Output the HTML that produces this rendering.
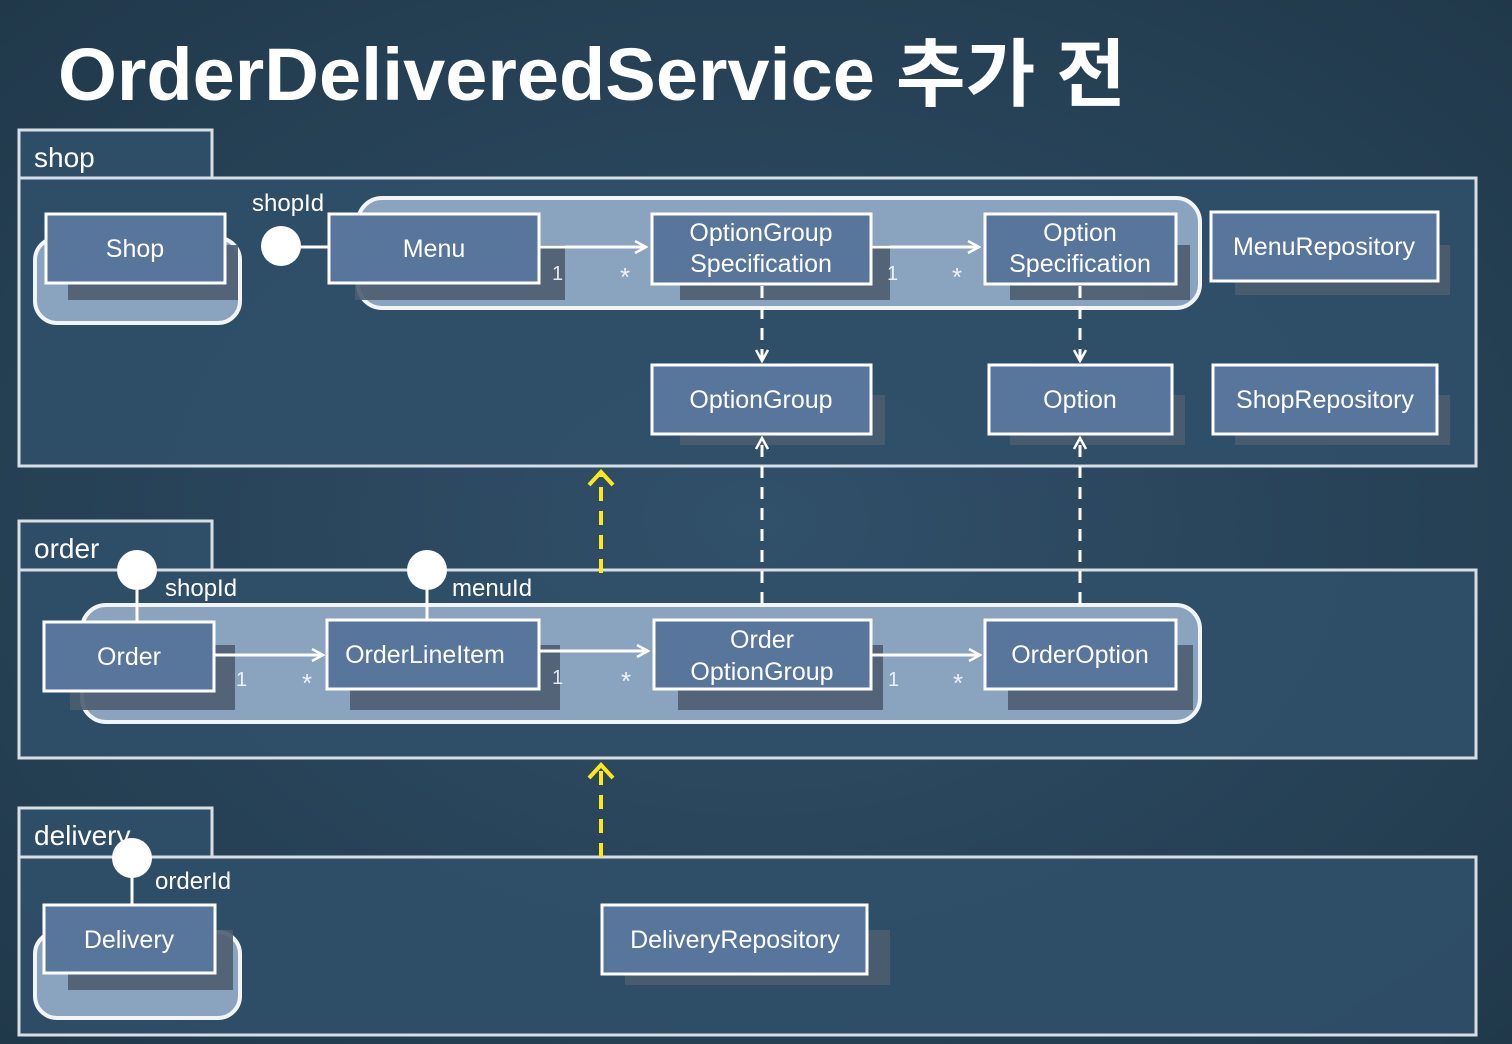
<!DOCTYPE html>
<html><head><meta charset="utf-8"><style>
html,body{margin:0;padding:0;width:1512px;height:1044px;overflow:hidden;background:#2b475b;}
svg{display:block}
text{font-family:"Liberation Sans","Noto Sans CJK KR",sans-serif;fill:#fff}
</style></head><body>
<svg width="1512" height="1044" viewBox="0 0 1512 1044" xmlns="http://www.w3.org/2000/svg">
<defs>
<radialGradient id="bg" cx="50%" cy="50%" r="75%">
<stop offset="0" stop-color="#31506a"/><stop offset="1" stop-color="#1f3748"/>
</radialGradient>
<marker id="ah" markerWidth="14" markerHeight="14" refX="12" refY="7" orient="auto" markerUnits="userSpaceOnUse">
<path d="M1,1 L12,7 L1,13" fill="none" stroke="#fff" stroke-width="2.5"/></marker>
<marker id="ahy" markerWidth="30" markerHeight="30" refX="17" refY="15" orient="auto" markerUnits="userSpaceOnUse">
<path d="M4,3 L17,15 L4,27" fill="none" stroke="#ffe81a" stroke-width="4"/></marker>
</defs>
<rect width="1512" height="1044" fill="url(#bg)"/>
<text x="58" y="100" font-size="74" font-weight="bold" textLength="1068" lengthAdjust="spacingAndGlyphs">OrderDeliveredService 추가 전</text>

<g fill="#30506a" fill-opacity="0.85" stroke="#d8dee4" stroke-width="3">
<rect x="19" y="130" width="193" height="48"/><rect x="19" y="178" width="1457" height="288"/>
<rect x="19" y="521" width="193" height="49"/><rect x="19" y="570" width="1457" height="188"/>
<rect x="19" y="808" width="193" height="49"/><rect x="19" y="857" width="1457" height="178"/>
</g>
<text x="34" y="167" font-size="28">shop</text>
<text x="34" y="558" font-size="28">order</text>
<text x="34" y="845" font-size="28">delivery</text>

<g fill="#8aa3bf" stroke="#f2f4f6" stroke-width="4">
<rect x="35" y="238" width="205" height="85" rx="22"/>
<rect x="358" y="198" width="842" height="110" rx="24"/>
<rect x="82" y="605" width="1118" height="117" rx="24"/>
<rect x="35" y="932" width="205" height="86" rx="22"/>
</g>

<g fill="#4c5d70" opacity="0.9">
<rect x="68" y="245" width="170" height="55"/><rect x="355" y="245" width="210" height="55"/>
<rect x="680" y="245" width="210" height="55"/><rect x="1010" y="245" width="180" height="55"/>
<rect x="1235" y="245" width="215" height="50"/><rect x="680" y="395" width="205" height="50"/>
<rect x="1010" y="395" width="175" height="50"/><rect x="1235" y="395" width="215" height="50"/>
<rect x="70" y="645" width="165" height="65"/><rect x="350" y="645" width="210" height="65"/>
<rect x="678" y="645" width="205" height="65"/><rect x="1008" y="645" width="185" height="65"/>
<rect x="68" y="930" width="165" height="60"/><rect x="625" y="930" width="265" height="55"/>
</g>

<g fill="#58759c" stroke="#fff" stroke-width="3">
<rect x="46" y="214" width="179" height="69"/>
<rect x="329" y="214" width="210" height="69"/>
<rect x="652" y="214" width="219" height="70"/>
<rect x="985" y="214" width="191" height="70"/>
<rect x="1211" y="212" width="227" height="69"/>
<rect x="652" y="365" width="219" height="69"/>
<rect x="989" y="365" width="183" height="69"/>
<rect x="1213" y="365" width="224" height="69"/>
<rect x="44" y="622" width="170" height="69"/>
<rect x="327" y="620" width="212" height="69"/>
<rect x="654" y="620" width="217" height="69"/>
<rect x="985" y="620" width="191" height="69"/>
<rect x="44" y="905" width="171" height="68"/>
<rect x="602" y="905" width="265" height="69"/>
</g>
<g font-size="25" text-anchor="middle">
<text x="135" y="257">Shop</text>
<text x="434" y="257">Menu</text>
<text x="761" y="241">OptionGroup</text><text x="761" y="272">Specification</text>
<text x="1080" y="241">Option</text><text x="1080" y="272">Specification</text>
<text x="1324" y="255">MenuRepository</text>
<text x="761" y="408">OptionGroup</text>
<text x="1080" y="408">Option</text>
<text x="1325" y="408">ShopRepository</text>
<text x="129" y="665">Order</text>
<text x="425" y="663">OrderLineItem</text>
<text x="762" y="648">Order</text><text x="762" y="680">OptionGroup</text>
<text x="1080" y="663">OrderOption</text>
<text x="129" y="948">Delivery</text>
<text x="735" y="948">DeliveryRepository</text>
</g>

<g stroke="#fff" stroke-width="3" fill="none">
<line x1="539" y1="247" x2="646" y2="247" marker-end="url(#ah)"/>
<line x1="871" y1="247" x2="979" y2="247" marker-end="url(#ah)"/>
<line x1="214" y1="655" x2="323" y2="655" marker-end="url(#ah)"/>
<line x1="539" y1="651" x2="648" y2="651" marker-end="url(#ah)"/>
<line x1="871" y1="655" x2="980" y2="655" marker-end="url(#ah)"/>
<line x1="300" y1="247" x2="329" y2="247"/>
<line x1="137" y1="580" x2="137" y2="622"/>
<line x1="427" y1="580" x2="427" y2="620"/>
<line x1="132" y1="870" x2="132" y2="905"/>
</g>
<g stroke="#fff" stroke-width="3" fill="none" stroke-dasharray="12,9">
<line x1="762" y1="286" x2="762" y2="361" marker-end="url(#ah)"/>
<line x1="1080" y1="286" x2="1080" y2="361" marker-end="url(#ah)"/>
<line x1="762" y1="604" x2="762" y2="438" marker-end="url(#ah)"/>
<line x1="1080" y1="604" x2="1080" y2="438" marker-end="url(#ah)"/>
</g>
<g stroke="#ffe81a" stroke-width="4" fill="none" stroke-dasharray="14,10">
<line x1="601" y1="573" x2="601" y2="472" marker-end="url(#ahy)"/>
<line x1="601" y1="857" x2="601" y2="765" marker-end="url(#ahy)"/>
</g>
<g fill="#fff">
<circle cx="281" cy="246" r="20"/><circle cx="137" cy="570" r="20"/>
<circle cx="427" cy="570" r="20"/><circle cx="132" cy="858" r="20"/>
</g>
<g font-size="24">
<text x="252" y="211">shopId</text><text x="165" y="596">shopId</text>
<text x="452" y="596">menuId</text><text x="155" y="889">orderId</text>
</g>
<g font-size="20" fill-opacity="0.85">
<text x="552" y="280">1</text><text x="620" y="286" font-size="26">*</text>
<text x="887" y="280">1</text><text x="952" y="286" font-size="26">*</text>
<text x="236" y="686">1</text><text x="302" y="692" font-size="26">*</text>
<text x="552" y="684">1</text><text x="621" y="690" font-size="26">*</text>
<text x="888" y="686">1</text><text x="953" y="692" font-size="26">*</text>
</g>
</svg>
</body></html>
